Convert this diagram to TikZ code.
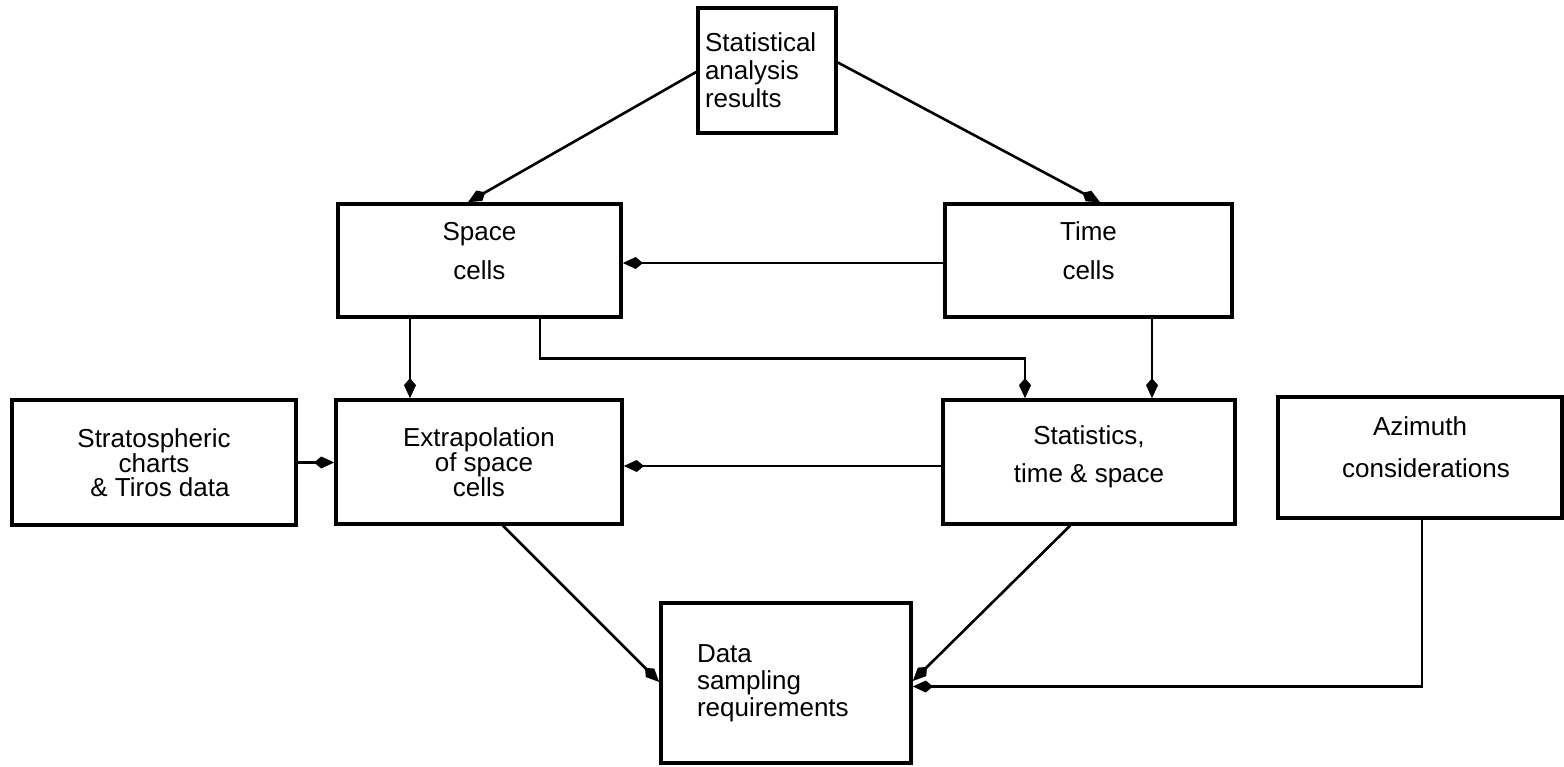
\documentclass[tikz,border=0pt]{standalone}
\usepackage{fontspec}
\setmainfont{Liberation Sans}
\usetikzlibrary{arrows.meta}

\begin{document}
\begin{tikzpicture}[x=1pt,y=-1pt,
  box/.style={draw, line width=3.6pt, inner sep=0pt, align=center,
    font=\fontsize{26}{28}\selectfont},
  conn/.style={line width=2.6pt, line cap=round,
    -{Kite[length=20pt,width=12pt,inset=7pt,line width=0pt]}}]
\useasboundingbox (0,0) rectangle (1564,767);

% boxes (centre, width, height)
\node[box, minimum width=138pt, minimum height=125pt, text width=124pt, align=left]
  (top) at (767,70.5) {Statistical\\analysis\\results};
\node[box, minimum width=283pt, minimum height=113pt,
  font=\fontsize{26}{39}\selectfont] (space) at (479.5,260.5) {Space\\cells\\[-20pt]};
\node[box, minimum width=287pt, minimum height=113pt,
  font=\fontsize{26}{39}\selectfont] (time) at (1088.5,260.5) {Time\\cells\\[-20pt]};
\node[box, minimum width=284pt, minimum height=125pt,
  font=\fontsize{26}{24}\selectfont] (strat) at (154,462.5)
  {Stratospheric\\charts\\\hspace{12pt}\& Tiros data};
\node[box, minimum width=286pt, minimum height=124pt,
  font=\fontsize{26}{25}\selectfont] (extrap) at (479,462)
  {Extrapolation\\\hspace{10pt}of space\\cells};
\node[box, minimum width=292pt, minimum height=124pt,
  font=\fontsize{26}{38}\selectfont] (stats) at (1089,462)
  {Statistics,\\time \& space\\[-22pt]};
\node[box, minimum width=284pt, minimum height=121pt,
  font=\fontsize{26}{42}\selectfont] (azim) at (1420,457.5)
  {Azimuth\\\hspace{12pt}considerations\\[-22pt]};
\node[box, minimum width=250pt, minimum height=160pt, text width=178pt, align=left,
  font=\fontsize{26}{27}\selectfont] (data) at (786,683)
  {Data\\sampling\\requirements\\[-4pt]};

% connectors
\draw[conn] ([yshift=-1.5pt]top.west) -- ([xshift=-11.5pt]space.north);
\draw[conn] ([yshift=8pt]top.east) -- ([xshift=11.5pt]time.north);
\draw[conn] ([yshift=-2.5pt]time.west) -- ([yshift=-2.5pt]time.west -| space.east);
\draw[conn] ([xshift=-69.5pt]space.south) -- ([xshift=-69.5pt]space.south |- extrap.north);
\draw[conn] ([xshift=60.5pt]space.south) -- ++(0,40) -| ([xshift=-64pt]stats.north);
\draw[conn] ([xshift=63.5pt]time.south) -- ([xshift=63.5pt]time.south |- stats.north);
\draw[conn] (strat.east) -- (strat.east -| extrap.west);
\draw[conn] ([yshift=-4pt]stats.west) -- ([yshift=-4pt]stats.west -| extrap.east);
\draw[conn] ([xshift=24pt]extrap.south) -- ([yshift=1pt]data.west);
\draw[conn] ([xshift=-19pt]stats.south) -- ([yshift=2pt]data.east);
\draw[conn] ([xshift=2pt]azim.south) |- ([yshift=-3.5pt]data.east);
\end{tikzpicture}
\end{document}
